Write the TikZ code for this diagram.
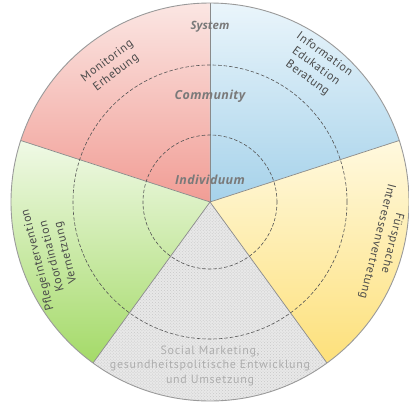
\documentclass[tikz,border=0pt]{standalone}
\usepackage{fontspec}
\setmainfont{PT Sans}
\newfontfamily\levfont[LetterSpace=3]{Open Sans}
\newfontfamily\sysfont{Open Sans}
\newfontfamily\labfont[LetterSpace=5]{PT Sans}
\newfontfamily\socfont[LetterSpace=6]{PT Sans}
\usetikzlibrary{patterns}
\definecolor{redtop}{HTML}{FBE6E3}
\definecolor{redbot}{HTML}{F19D95}
\definecolor{bluetop}{HTML}{EAF5FB}
\definecolor{bluebot}{HTML}{A6D2EA}
\definecolor{yeltop}{HTML}{FFF9DF}
\definecolor{yelbot}{HTML}{FDE07A}
\definecolor{grntop}{HTML}{F0F9E6}
\definecolor{grnbot}{HTML}{A4DA68}
\definecolor{graysec}{HTML}{E8E8E8}
\definecolor{graydot}{HTML}{C8C8C8}
\definecolor{divline}{HTML}{8A8A8A}
\definecolor{rimline}{HTML}{9A9A9A}
\definecolor{dashcol}{HTML}{555555}
\definecolor{labcol}{HTML}{4A4A4A}
\definecolor{levcol}{HTML}{7A7A7A}
\definecolor{soccol}{HTML}{ADADAD}
\tikzset{
  divider/.style={draw=divline, line width=0.7bp},
  ring/.style={draw=dashcol, line width=0.6bp, dash pattern=on 3.5bp off 2bp},
  level/.style={text=levcol, font=\levfont\fontsize{12.5}{15}\selectfont\bfseries\itshape},
  syslevel/.style={text=levcol, font=\sysfont\fontsize{11.5}{14}\selectfont\bfseries\itshape},
  sectlab/.style={text=labcol, align=center, inner sep=0pt, font=\labfont\fontsize{12}{14.5}\selectfont},
  soclab/.style={text=soccol, align=center, font=\socfont\fontsize{12}{14.5}\selectfont}
}
\begin{document}
\begin{tikzpicture}[x=1bp,y=1bp]
\useasboundingbox (-210,-202) rectangle (199,202);
\def\R{199}
\coordinate (c) at (0,0);
\coordinate (p90) at (90:\R);
\coordinate (p18) at (18:\R);
\coordinate (p54) at (-54:\R);
\coordinate (p126) at (-126:\R);
\coordinate (p162) at (162:\R);
% sectors
\shade[top color=redtop, bottom color=redbot] (c) -- (p90) arc (90:162:\R) -- cycle;
\shade[top color=bluetop, bottom color=bluebot] (c) -- (p18) arc (18:90:\R) -- cycle;
\shade[top color=yeltop, bottom color=yelbot] (c) -- (p54) arc (-54:18:\R) -- cycle;
\shade[top color=grntop, bottom color=grnbot] (c) -- (p162) arc (162:234:\R) -- cycle;
\fill[graysec] (c) -- (p126) arc (-126:-54:\R) -- cycle;
\fill[pattern=crosshatch dots, pattern color=graydot] (c) -- (p126) arc (-126:-54:\R) -- cycle;
% dividers
\draw[divider] (c) -- (p90);
\draw[divider] (c) -- (p18);
\draw[divider] (c) -- (p54);
\draw[divider] (c) -- (p126);
\draw[divider] (c) -- (p162);
% rings
\draw[ring] (c) circle (67);
\draw[ring] (c) circle (137);
\draw[draw=rimline, line width=0.9bp] (c) circle (\R);
% level labels
\node[syslevel] (sys) at (0,175) {System};
\node[level] (com) at (0,106) {Community};
\node[level] (ind) at (0,22) {Individuum};
% sector labels
\node[sectlab, rotate=37] (mon) at (126:167) {Monitoring\\Erhebung};
\node[sectlab, rotate=-36] (inf) at (52:172) {Information\\Edukation\\Beratung};
\node[sectlab, rotate=-104] (fur1) at (182,-41) {Fürsprache};
\node[sectlab, rotate=-104] (fur2) at (167,-39) {Interessenvertretung};
\node[sectlab, rotate=104] (pfl) at (199:167) {Pflegeintervention\\Koordination\\Vernetzung};
\node[soclab] (soc) at (0,-164) {Social Marketing,\\gesundheitspolitische Entwicklung\\und Umsetzung};
\end{tikzpicture}
\end{document}
